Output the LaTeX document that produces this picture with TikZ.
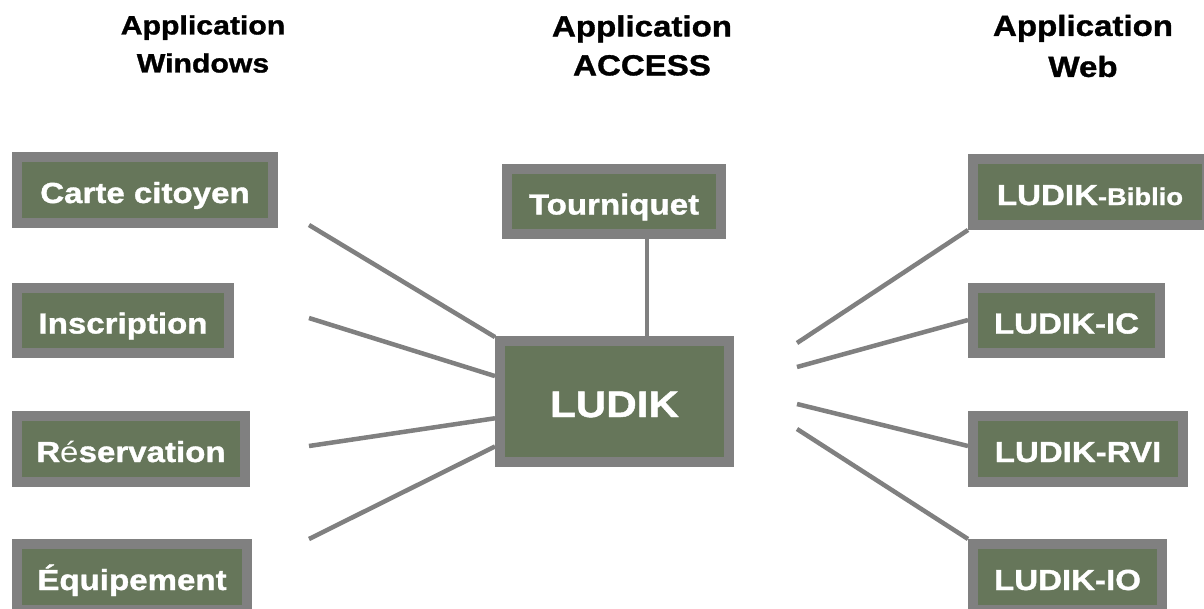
\documentclass[tikz,border=0pt]{standalone}
\usepackage{fontspec}
\newfontfamily\blk{Liberation Sans}[FakeStretch=1.14, BoldFeatures={FakeBold=1.2}]
\usetikzlibrary{calc}
\definecolor{boxgreen}{RGB}{102,118,90}
\definecolor{boxgray}{RGB}{128,128,128}
\tikzset{
  appbox/.style={draw=boxgray, fill=boxgreen, line width=10pt, inner sep=0pt,
    text=white, text height=26pt, text depth=0pt,
    font=\blk\bfseries\fontsize{29}{34}\selectfont},
  header/.style={align=center, text=black},
  link/.style={draw=boxgray, line width=4.5pt}
}
\begin{document}
\begin{tikzpicture}[x=1pt,y=-1pt]
\useasboundingbox[fill=white] (0,0) rectangle (1204,608);
% headers
\node[header, font=\blk\bfseries\fontsize{26.5}{38}\selectfont] (hwin) at (203,44) {Application\\Windows};
\node[header, font=\blk\bfseries\fontsize{29}{39}\selectfont] (hacc) at (642,45.5) {Application\\ACCESS};
\node[header, font=\blk\bfseries\fontsize{29}{41}\selectfont] (hweb) at (1083,46) {Application\\Web};
% left boxes
\node[appbox, minimum width=256pt, minimum height=66pt] (carte) at (145,190) {Carte citoyen};
\node[appbox, minimum width=212pt, minimum height=65pt] (inscr) at (123,320.5) {Inscription};
\node[appbox, minimum width=228pt, minimum height=66pt] (reserv) at (131,449) {R{\mdseries é}servation};
\node[appbox, minimum width=230pt, minimum height=66pt] (equip) at (132,577) {Équipement};
% center
\node[appbox, minimum width=214pt, minimum height=65pt] (tourn) at (614,201.5) {Tourniquet};
\node[appbox, minimum width=229pt, minimum height=121pt, text height=31pt,
  font=\blk\bfseries\fontsize{37}{42}\selectfont] (ludik) at (614.5,401.5) {LUDIK};
% right boxes
\node[appbox, minimum width=234pt, minimum height=66pt] (biblio) at (1090,192) {LUDIK{\fontsize{24}{28}\selectfont-Biblio}};
\node[appbox, minimum width=187pt, minimum height=65pt] (ic) at (1066.5,320.5) {LUDIK-IC};
\node[appbox, minimum width=210pt, minimum height=66pt] (rvi) at (1078,449) {LUDIK-RVI};
\node[appbox, minimum width=189pt, minimum height=66pt] (io) at (1067.5,577) {LUDIK-IO};
% free ends
\coordinate (l1) at (309,225);
\coordinate (l2) at (309,318);
\coordinate (l3) at (309,446);
\coordinate (l4) at (309,539);
\coordinate (r1) at (797,343);
\coordinate (r2) at (797,367);
\coordinate (r3) at (797,404);
\coordinate (r4) at (797,429);
% connectors
\draw[link] (l1) -- ($(ludik.north west)!0.008!(ludik.south west)$);
\draw[link] (l2) -- ($(ludik.north west)!0.306!(ludik.south west)$);
\draw[link] (l3) -- ($(ludik.north west)!0.628!(ludik.south west)$);
\draw[link] (l4) -- ($(ludik.north west)!0.843!(ludik.south west)$);
\draw[link] (r1) -- (biblio.south west);
\draw[link] (r2) -- ($(ic.west)+(0,-0.5)$);
\draw[link] (r3) -- ($(rvi.west)+(0,-3)$);
\draw[link] (r4) -- (io.north west);
\draw[link] ($(tourn.south)+(33,0)$) coordinate (t1) -- (t1 |- ludik.north);
\end{tikzpicture}
\end{document}
